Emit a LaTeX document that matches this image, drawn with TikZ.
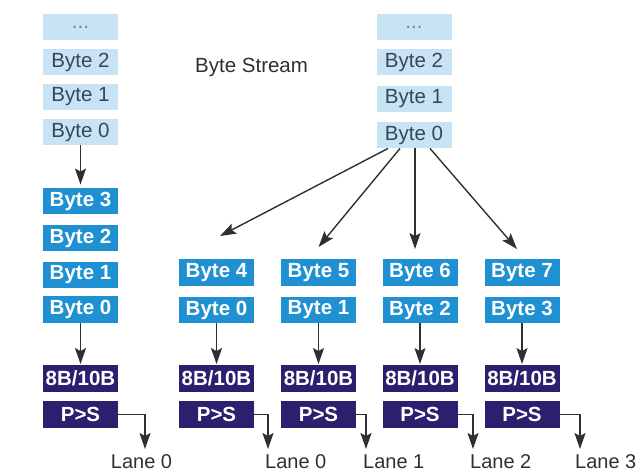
\documentclass[tikz,border=0pt]{standalone}
\usepackage{fontspec}
\setmainfont{Liberation Sans}
\usetikzlibrary{arrows.meta}
\definecolor{lightbox}{HTML}{C8E4F4}
\definecolor{lighttext}{HTML}{34485C}
\definecolor{midblue}{HTML}{1F90D2}
\definecolor{purplebox}{HTML}{2D1E6E}
\definecolor{linegray}{HTML}{303030}
\tikzset{
  base/.style={minimum width=75pt, minimum height=26.5pt, inner sep=0pt,
    font=\fontsize{20.5}{24}\selectfont},
  lbox/.style={base, fill=lightbox, text=lighttext},
  mbox/.style={base, fill=midblue, text=white, font=\fontsize{20.5}{24}\selectfont\bfseries},
  pbox/.style={base, fill=purplebox, text=white, font=\fontsize{20.5}{24}\selectfont\bfseries},
  arr/.style={draw=linegray, line width=1.4pt, -{Stealth[length=16pt,width=11pt,inset=3pt]}},
  lanelbl/.style={inner sep=0pt, font=\fontsize{20}{22}\selectfont, text=linegray},
}
\begin{document}
\begin{tikzpicture}[x=1pt,y=-1pt]
\useasboundingbox (0,0) rectangle (639,474);
% left byte stream
\node[lbox, text=gray] (lsd) at (80.5,27) {...};
\node[lbox] (ls2) at (80.5,62) {Byte 2};
\node[lbox] (ls1) at (80.5,97) {Byte 1};
\node[lbox] (ls0) at (80.5,132) {Byte 0};
% right byte stream
\node[lbox, text=gray] (rsd) at (414,27) {...};
\node[lbox] (rs2) at (414,62) {Byte 2};
\node[lbox] (rs1) at (414,99) {Byte 1};
\node[lbox] (rs0) at (414,135) {Byte 0};
\node[inner sep=0pt, anchor=west, font=\fontsize{20.5}{24}\selectfont, text=linegray] (bs) at (195,67) {Byte Stream};
% left lane column
\node[mbox] (lb3) at (80.5,201) {Byte 3};
\node[mbox] (lb2) at (80.5,238) {Byte 2};
\node[mbox] (lb1) at (80.5,275) {Byte 1};
\node[mbox] (lb0) at (80.5,309.5) {Byte 0};
\node[pbox] (le) at (80.5,378.5) {8B/10B};
\node[pbox] (lp) at (80.5,414.5) {P>S};
% four lane columns
\node[mbox] (b4) at (216.5,272.5) {Byte 4};
\node[mbox] (b0) at (216.5,310) {Byte 0};
\node[mbox] (b5) at (318.5,272.5) {Byte 5};
\node[mbox] (b1) at (318.5,310) {Byte 1};
\node[mbox] (b6) at (420,272.5) {Byte 6};
\node[mbox] (b2) at (420,310) {Byte 2};
\node[mbox] (b7) at (522,272.5) {Byte 7};
\node[mbox] (b3) at (522,310) {Byte 3};
\node[pbox] (e0) at (216.5,378.5) {8B/10B};
\node[pbox] (p0) at (216.5,414.5) {P>S};
\node[pbox] (e1) at (318.5,378.5) {8B/10B};
\node[pbox] (p1) at (318.5,414.5) {P>S};
\node[pbox] (e2) at (420,378.5) {8B/10B};
\node[pbox] (p2) at (420,414.5) {P>S};
\node[pbox] (e3) at (522,378.5) {8B/10B};
\node[pbox] (p3) at (522,414.5) {P>S};
% lane labels
\node[lanelbl] (ll) at (141.5,462) {Lane 0};
\node[lanelbl, anchor=west] (l0) at (265,462) {Lane 0};
\node[lanelbl, anchor=west] (l1) at (363,462) {Lane 1};
\node[lanelbl, anchor=west] (l2) at (470,462) {Lane 2};
\node[lanelbl, anchor=west] (l3) at (575,462) {Lane 3};
\coordinate (cl) at (145,449);
\coordinate (c0) at (268,449);
\coordinate (c1) at (366,449);
\coordinate (c2) at (473,449);
\coordinate (c3) at (580,449);
% arrows
\draw[arr, shorten >=3pt] (ls0.south) -- (lb3.north);
\draw[arr, shorten >=1pt] (lb0.south) -- (le.north);
\draw[arr, shorten >=1pt] (b0.south) -- (e0.north);
\draw[arr, shorten >=1pt] (b1.south) -- (e1.north);
\draw[arr, shorten >=1pt] (b2.south) -- (e2.north);
\draw[arr, shorten >=1pt] (b3.south) -- (e3.north);
\draw[arr] ([xshift=-26pt]rs0.south) -- ([xshift=3.5pt,yshift=23pt]b4.north);
\draw[arr] ([xshift=-14pt]rs0.south) -- ([yshift=12pt]b5.north);
\draw[arr] ([xshift=1pt]rs0.south) -- ([xshift=-5pt,yshift=10pt]b6.north);
\draw[arr] ([xshift=16pt]rs0.south) -- ([xshift=-5pt,yshift=10pt]b7.north);
\draw[arr] (lp.east) -| (cl);
\draw[arr] (p0.east) -| (c0);
\draw[arr] (p1.east) -| (c1);
\draw[arr] (p2.east) -| (c2);
\draw[arr] (p3.east) -| (c3);
\end{tikzpicture}
\end{document}
